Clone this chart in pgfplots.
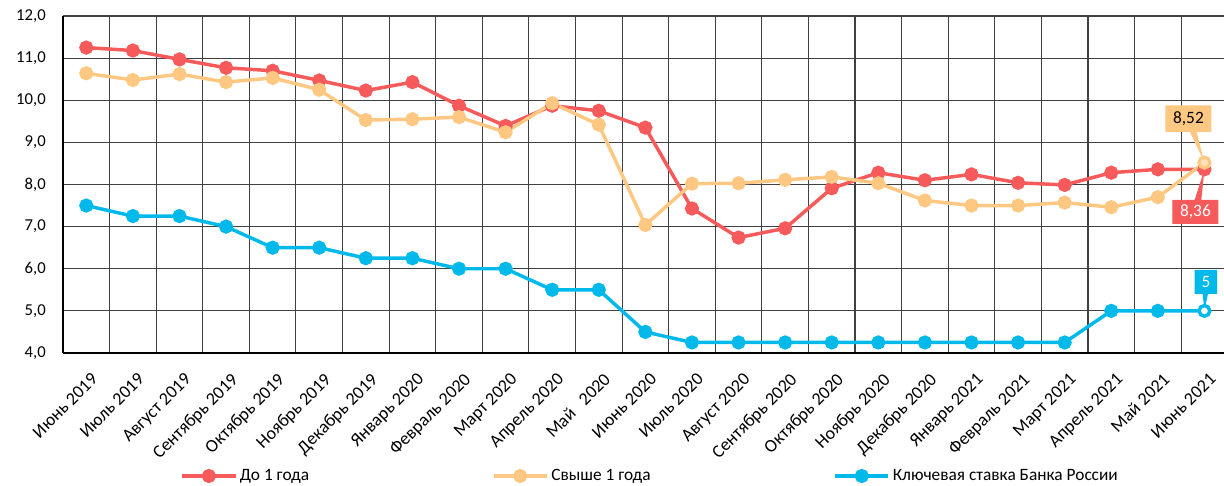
\documentclass[border=0pt]{standalone}
\usepackage{fontspec}
\setmainfont{Carlito}
\usepackage{pgfplots}
\usepackage{pgfplotstable}
\pgfplotsset{compat=1.18}
\usetikzlibrary{shapes.callouts}

\definecolor{cshort}{RGB}{246,90,90}
\definecolor{clong}{RGB}{255,200,130}
\definecolor{ckey}{RGB}{0,185,235}

% ставки: до 1 года, свыше 1 года, ключевая ставка
\pgfplotstableread{
x short long key
0  11.25 10.64 7.50
1  11.18 10.48 7.25
2  10.97 10.62 7.25
3  10.77 10.43 7.00
4  10.70 10.53 6.50
5  10.47 10.25 6.50
6  10.23 9.53  6.25
7  10.43 9.55  6.25
8  9.87  9.60  6.00
9  9.39  9.24  6.00
10 9.87  9.93  5.50
11 9.75  9.42  5.50
12 9.35  7.04  4.50
13 7.43  8.02  4.25
14 6.74  8.03  4.25
15 6.96  8.11  4.25
16 7.91  8.18  4.25
17 8.28  8.03  4.25
18 8.10  7.62  4.25
19 8.24  7.50  4.25
20 8.04  7.50  4.25
21 7.99  7.57  4.25
22 8.28  7.46  5.00
23 8.36  7.70  5.00
24 8.36  8.52  5.00
}\rates

\begin{document}
\begin{tikzpicture}
  \begin{axis}[
    name=ax,
    scale only axis,
    width=870.75pt,
    height=252.75pt,
    xmin=-0.5, xmax=24.42,
    ymin=4, ymax=12,
    axis lines=left,
    axis line style={-, line width=1pt, black},
    xtick={0,...,24},
    xticklabels={Июнь 2019, Июль 2019, Август 2019, Сентябрь 2019, Октябрь 2019,
      Ноябрь 2019, Декабрь 2019, Январь 2020, Февраль 2020, Март 2020,
      Апрель 2020, Май~~~2020, Июнь 2020, Июль 2020, Август 2020,
      Сентябрь 2020, Октябрь 2020, Ноябрь 2020, Декабрь 2020, Январь 2021,
      Февраль 2021, Март 2021, Апрель 2021, Май 2021, Июнь 2021},
    minor xtick={-0.5,0.5,1.5,2.5,3.5,4.5,5.5,6.5,7.5,8.5,9.5,10.5,11.5,
      12.5,13.5,14.5,15.5,16.5,17.5,18.5,19.5,20.5,21.5,22.5,23.5},
    xminorgrids,
    ytick={4,5,...,12},
    ymajorgrids,
    major tick length=0pt,
    minor tick length=0pt,
    grid style={black!75, line width=0.8pt},
    minor grid style={black!75, line width=0.8pt},
    yticklabel style={font=\fontsize{12.5}{14}\selectfont},
    xticklabel style={font=\fontsize{13.5}{15}\selectfont,
      xshift=3pt, yshift=-14pt, rotate=45, anchor=north east, inner sep=0pt},
    /pgf/number format/use comma,
    /pgf/number format/fixed,
    /pgf/number format/fixed zerofill,
    /pgf/number format/precision=1,
    /pgf/number format/assume math mode=true,
    yticklabel style={xshift=-12.75pt, inner xsep=0pt, anchor=east},
    legend columns=3,
    legend style={draw=none, fill=none, at={(0.506,-0.365)}, anchor=center,
      font=\fontsize{13}{15}\selectfont,
      /tikz/every even column/.append style={column sep=135pt},
      nodes={inner xsep=2pt}},
    legend image code/.code={\draw[mark repeat=2, mark phase=2]
      plot coordinates {(0pt,0pt) (20pt,0pt) (40pt,0pt)};},
    every axis plot/.append style={line width=2.6pt, mark=*, mark size=4pt},
  ]
    \addplot[cshort, mark options={fill=cshort}] table[x=x, y=short] {\rates};
    \addlegendentry{До 1 года}
    \addplot[clong, mark options={fill=clong}] table[x=x, y=long] {\rates};
    \addlegendentry{Свыше 1 года}
    \addplot[ckey, mark options={fill=ckey}] table[x=x, y=key] {\rates};
    \addlegendentry{Ключевая ставка Банка России}

    \addplot[only marks, forget plot, mark=*, mark size=3.5pt,
      mark options={draw=clong, fill=clong!55!white, line width=1.2pt}] coordinates {(24,8.52)};
    \addplot[only marks, forget plot, mark=*, mark size=3.5pt,
      mark options={draw=ckey, fill=white, line width=1.6pt}] coordinates {(24,5)};

    \node[rectangle callout, fill=clong, text=black, minimum width=34.5pt, minimum height=20pt,
      inner sep=1pt, callout pointer width=5pt, font=\fontsize{13}{15}\selectfont,
      callout absolute pointer={(axis cs:24,8.52)}]
      at ([shift={(-12pt,33pt)}]axis cs:24,8.52) {8,52};
    \node[rectangle callout, fill=cshort, text=white, minimum width=34.5pt, minimum height=18pt,
      inner sep=1pt, callout pointer width=5pt, font=\fontsize{13}{15}\selectfont,
      callout absolute pointer={(axis cs:24,8.36)}]
      at ([shift={(-6.75pt,-32pt)}]axis cs:24,8.36) {8,36};
    \node[rectangle callout, fill=ckey, text=white, minimum width=17pt, minimum height=18pt,
      inner sep=1pt, callout pointer width=4pt, font=\fontsize{13}{15}\selectfont,
      callout absolute pointer={(axis cs:24,5)}]
      at ([shift={(1.1pt,21.75pt)}]axis cs:24,5) {5};
  \end{axis}
  \pgfresetboundingbox
  \path ([shift={(-47.25pt,-99.75pt)}]ax.south west) rectangle ([shift={(0pt,12pt)}]ax.north east);
\end{tikzpicture}
\end{document}
